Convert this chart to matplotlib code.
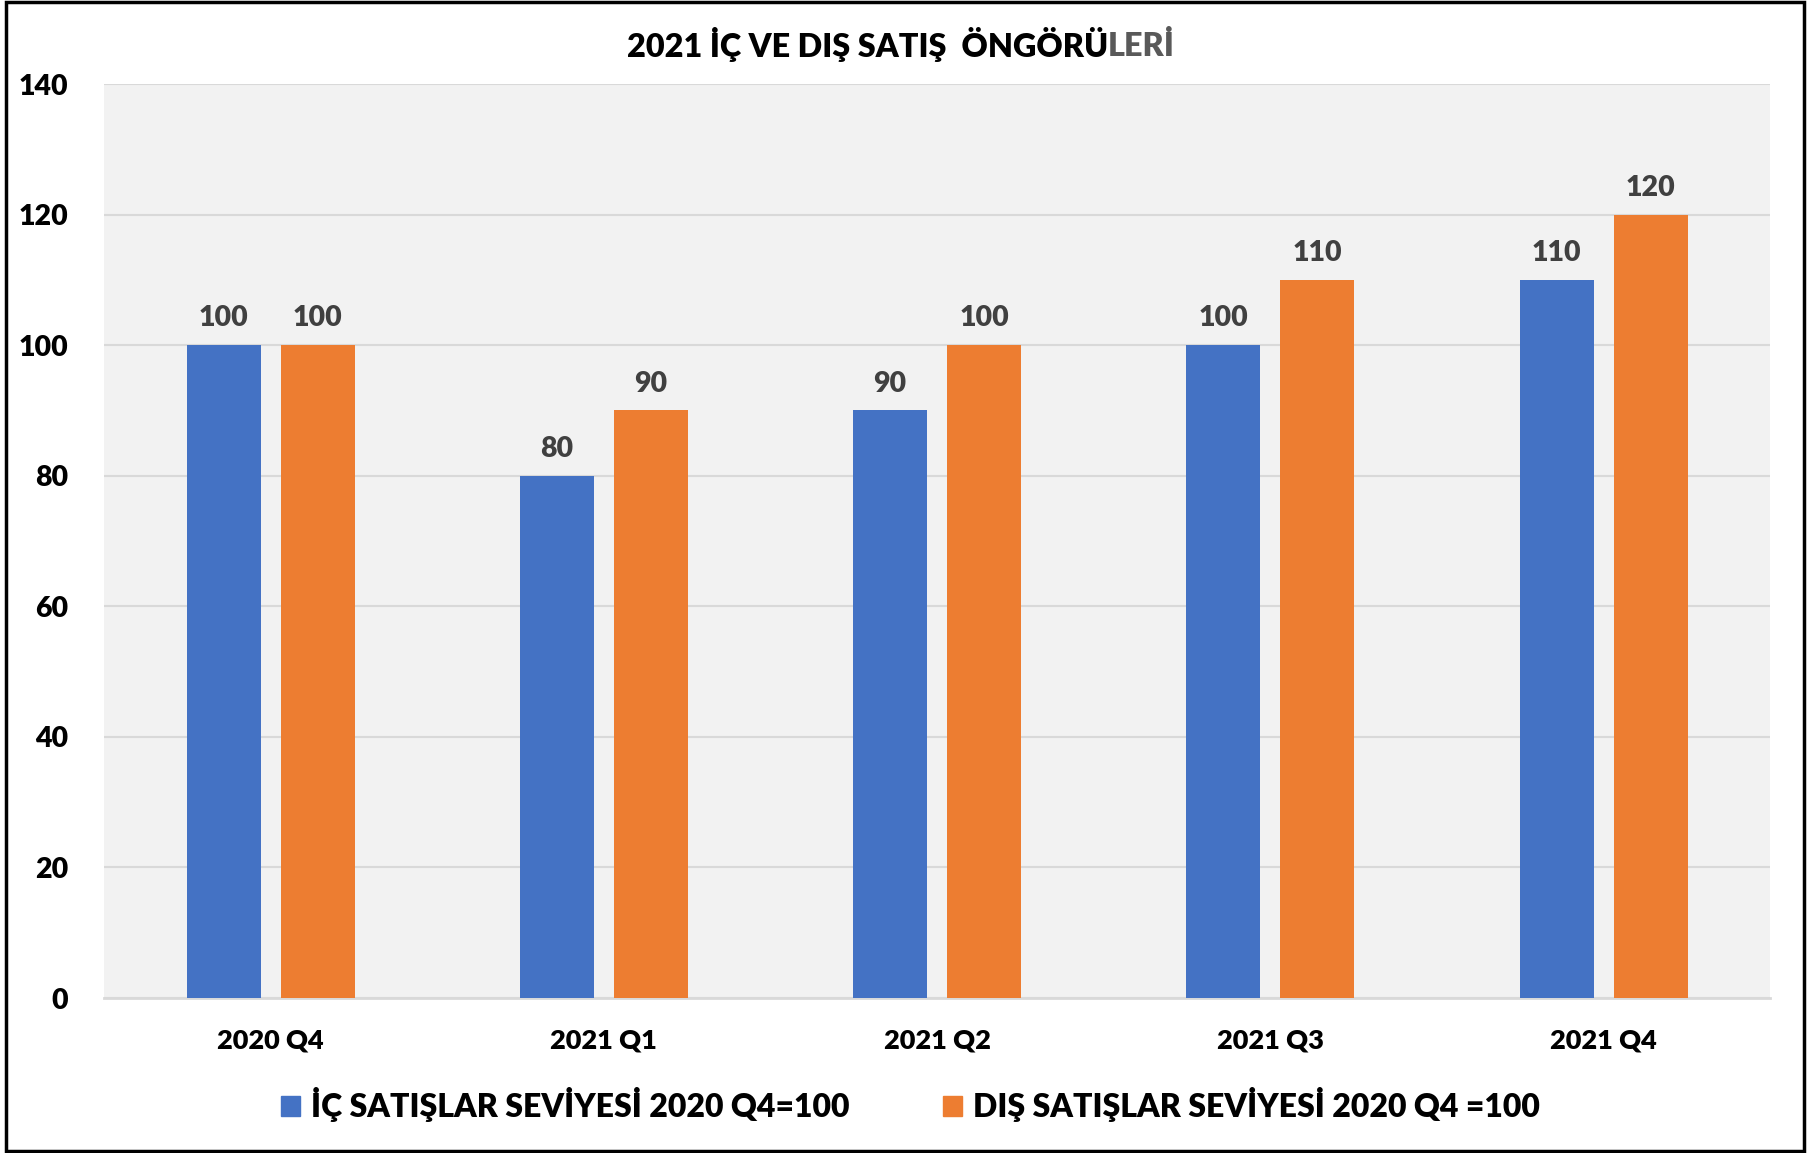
import numpy as np
import matplotlib.pyplot as plt
from matplotlib.patches import Rectangle, Patch

categories = ['2020 Q4', '2021 Q1', '2021 Q2', '2021 Q3', '2021 Q4']
ic_satis = [100, 80, 90, 100, 110]
dis_satis = [100, 90, 100, 110, 120]
series_names = ['İÇ SATIŞLAR SEVİYESİ 2020 Q4=100', 'DIŞ SATIŞLAR SEVİYESİ 2020 Q4 =100']
yticks = [0, 20, 40, 60, 80, 100, 120, 140]

blue = '#4472C4'
orange = '#ED7D31'
label_col = '#404040'
wt = 'heavy'

plt.rcParams['font.family'] = ['Lato', 'DejaVu Sans']

fig = plt.figure(figsize=(18.1, 11.53), dpi=100)
ax = fig.add_axes([0.0575, 0.1344, 0.9205, 0.7927])
ax.set_facecolor('#F2F2F2')

x = np.arange(len(categories))
w = 0.222
off = 0.141
b1 = ax.bar(x - off, ic_satis, w, color=blue, zorder=3)
b2 = ax.bar(x + off, dis_satis, w, color=orange, zorder=3)

# value labels on top of bars
for bars in (b1, b2):
    for r in bars:
        ax.annotate(f'{r.get_height():.0f}', (r.get_x() + r.get_width() / 2, r.get_height()),
                    xytext=(0, 10), textcoords='offset points', ha='center', va='bottom',
                    fontsize=20.5, fontweight=wt, color=label_col)

ax.set_xlim(-0.5, len(categories) - 0.5)
ax.set_ylim(0, 140)
ax.set_yticks(yticks)
ax.set_yticklabels([str(v) for v in yticks], fontsize=20.5, fontweight=wt)
ax.set_xticks(x)
ax.set_xticklabels(categories, fontsize=19.5, fontweight=wt)
ax.tick_params(axis='y', length=0, pad=26)
ax.tick_params(axis='x', length=0, pad=22)
ax.grid(axis='y', color='#D9D9D9', linewidth=1.5, zorder=0)
for s in ('left', 'right', 'top'):
    ax.spines[s].set_visible(False)
ax.spines['bottom'].set_color('#D9D9D9')
ax.spines['bottom'].set_linewidth(2)

# title: last part in gray
t1 = fig.text(1108 / 1810, 1 - 44 / 1153, '2021 İÇ VE DIŞ SATIŞ  ÖNGÖRÜ', ha='right', va='center',
              fontsize=23.3, fontweight=wt, color='black')
ax.annotate('LERİ', xy=(1, 0), xycoords=t1, ha='left', va='bottom',
            fontsize=23.3, fontweight=wt, color='#595959', annotation_clip=False)

handles = [Patch(color=blue), Patch(color=orange)]
fig.legend(handles, series_names, loc='center', bbox_to_anchor=(0.503, 1 - 1105 / 1153), ncol=2,
           frameon=False, prop={'size': 23, 'weight': wt}, handlelength=0.6, handleheight=0.6,
           handletextpad=0.35, columnspacing=2.9)

# border around the whole chart
fig.patches.append(Rectangle((0.0035, 0.002), 0.993, 0.996, transform=fig.transFigure,
                             fill=False, edgecolor='black', linewidth=2.5))

fig.savefig('out.png', dpi=100)
